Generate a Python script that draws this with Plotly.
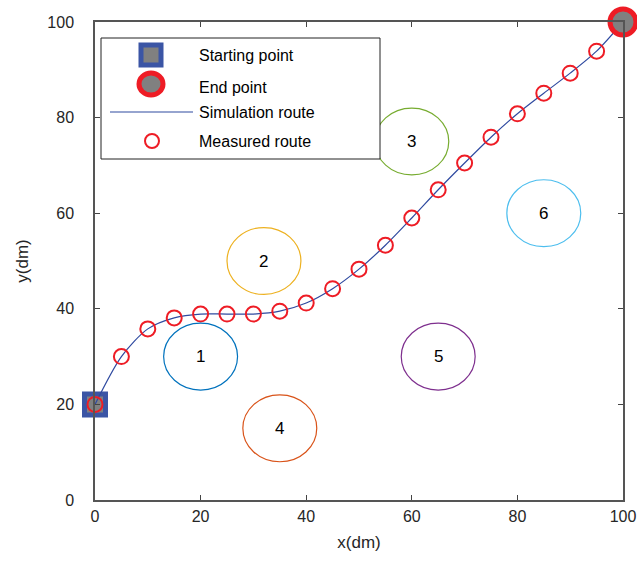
import plotly.graph_objects as go

# Route data (x, y in dm)
route_x = [0, 5, 10, 15, 20, 25, 30, 35, 40, 45, 50, 55, 60, 65, 70, 75, 80, 85, 90, 95, 100]
measured_y = [20, 30, 35.8, 38.1, 38.9, 38.9, 38.9, 39.5, 41.2, 44.2, 48.3, 53.3, 59.0, 64.9, 70.5, 75.9, 80.8, 85.1, 89.3, 93.9, 100]
sim_y = [20, 30, 35.8, 38.1, 38.9, 38.9, 38.9, 39.5, 41.2, 44.2, 48.3, 53.3, 59.0, 64.9, 70.5, 75.9, 80.8, 85.1, 89.3, 93.9, 100]

start_pt = (0, 20)
end_pt = (100, 100)

# Obstacles
obs_labels = ["1", "2", "3", "4", "5", "6"]
obs_x = [20, 32, 60, 35, 65, 85]
obs_y = [30, 50, 75, 15, 30, 60]
obs_r = [7, 7, 7, 7, 7, 7]
obs_colors = ["#0072BD", "#EDB120", "#77AC30", "#D95319", "#7E2F8E", "#4DBEEE"]

legend_labels = ["Starting point", "End point", "Simulation route", "Measured route"]

FONT = "Liberation Sans, Arial, sans-serif"
RED = "#EE1C25"
BLUE_LINE = "#2F4AA0"
SQ_BLUE = "#3B55A5"
GRAY = "#808080"

fig = go.Figure()

fig.add_trace(go.Scatter(x=[start_pt[0]], y=[start_pt[1]], mode="markers",
                         marker=dict(symbol="square", size=21, color=GRAY,
                                     line=dict(color=SQ_BLUE, width=5)),
                         cliponaxis=False, showlegend=False))
fig.add_trace(go.Scatter(x=route_x, y=sim_y, mode="lines",
                         line=dict(color=BLUE_LINE, width=1.2, shape="spline", smoothing=0.8),
                         cliponaxis=False, showlegend=False))
fig.add_trace(go.Scatter(x=route_x, y=measured_y, mode="markers",
                         marker=dict(symbol="circle-open", size=15, color=RED,
                                     line=dict(color=RED, width=2)),
                         cliponaxis=False, showlegend=False))
fig.add_trace(go.Scatter(x=[end_pt[0]], y=[end_pt[1]], mode="markers",
                         marker=dict(symbol="circle", size=26, color=GRAY,
                                     line=dict(color=RED, width=5)),
                         cliponaxis=False, showlegend=False))

shapes = []
annotations = []
for lab, cx, cy, r, c in zip(obs_labels, obs_x, obs_y, obs_r, obs_colors):
    shapes.append(dict(type="circle", xref="x", yref="y", x0=cx - r, x1=cx + r,
                       y0=cy - r, y1=cy + r, line=dict(color=c, width=1.2)))
    annotations.append(dict(x=cx, y=cy, xref="x", yref="y", text=lab, showarrow=False,
                            font=dict(family=FONT, size=17, color="black")))

# Custom legend (paper coordinates; plot area 528 x 478 px)
W, H = 528.0, 478.0
def px(x):
    return (x - 95) / W
def py(y):
    return (500 - y) / H

shapes.append(dict(type="rect", xref="paper", yref="paper", x0=px(101), x1=px(380),
                   y0=py(159), y1=py(38), line=dict(color="#222", width=1),
                   fillcolor="white", layer="above"))
# square symbol
shapes.append(dict(type="rect", xref="paper", yref="paper", xsizemode="pixel", ysizemode="pixel",
                   xanchor=px(151), yanchor=py(55), x0=-10, x1=10, y0=-10, y1=10,
                   fillcolor=GRAY, line=dict(color=SQ_BLUE, width=5), layer="above"))
# end circle symbol
shapes.append(dict(type="circle", xref="paper", yref="paper", xsizemode="pixel", ysizemode="pixel",
                   xanchor=px(151), yanchor=py(84), x0=-12, x1=12, y0=-11, y1=11,
                   fillcolor=GRAY, line=dict(color=RED, width=5), layer="above"))
# line symbol
shapes.append(dict(type="line", xref="paper", yref="paper", x0=px(110), x1=px(193),
                   y0=py(112), y1=py(112), line=dict(color=BLUE_LINE, width=1.2), layer="above"))
# measured circle symbol
shapes.append(dict(type="circle", xref="paper", yref="paper", xsizemode="pixel", ysizemode="pixel",
                   xanchor=px(152), yanchor=py(141), x0=-7, x1=7, y0=-7, y1=7,
                   line=dict(color=RED, width=2), layer="above"))

for lab, yy in zip(legend_labels, [55, 87, 112, 141]):
    annotations.append(dict(x=px(197), y=py(yy), xref="paper", yref="paper", text=lab,
                            showarrow=False, xanchor="left", yanchor="middle",
                            font=dict(family=FONT, size=16, color="black")))

axis_common = dict(range=[0, 100], tickvals=[0, 20, 40, 60, 80, 100], ticks="inside",
                   ticklen=5, tickwidth=1.2, tickcolor="#444", showline=True, linecolor="#555",
                   linewidth=1.5, mirror="ticks", showgrid=False, zeroline=False,
                   automargin=False,
                   tickfont=dict(family=FONT, size=16, color="#262626"),
                   title_font=dict(family=FONT, size=17, color="#262626"))

fig.update_layout(
    width=637, height=571,
    margin=dict(l=95, r=14, t=22, b=71),
    plot_bgcolor="white", paper_bgcolor="white",
    xaxis=dict(**axis_common, ticklabelstandoff=1, title=dict(text="x(dm)", standoff=12)),
    yaxis=dict(**axis_common, ticklabelstandoff=16, title=dict(text="y(dm)", standoff=14)),
    shapes=shapes, annotations=annotations, showlegend=False,
)

fig.write_html("out.html")
